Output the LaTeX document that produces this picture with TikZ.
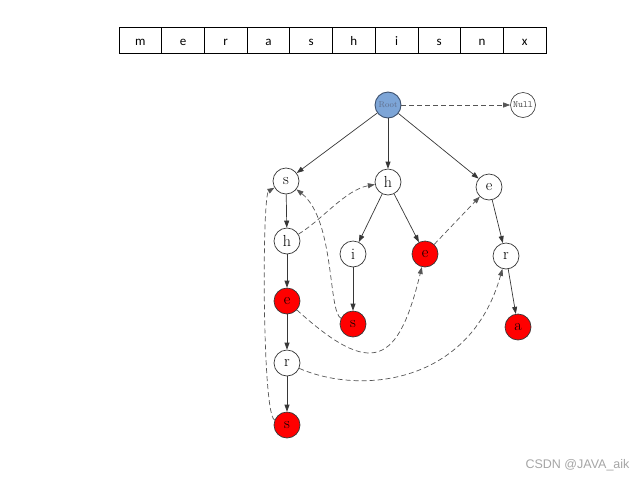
\documentclass[tikz,border=0pt]{standalone}
\usepackage{fontspec}
\newfontfamily\calib{Carlito}
\newfontfamily\wmfont{Liberation Sans}
\usetikzlibrary{arrows.meta}
\definecolor{rootblue}{RGB}{125,165,215}
\definecolor{rootedge}{RGB}{60,80,110}
\definecolor{roottext}{RGB}{95,110,140}
\definecolor{edgegray}{RGB}{55,55,55}
\definecolor{dashgray}{RGB}{85,85,85}
\definecolor{wmgray}{RGB}{165,165,165}
\tikzset{
  tnode/.style={circle,draw=edgegray,line width=0.7pt,minimum size=26pt,inner sep=0pt,fill=white,font=\fontsize{16}{16}\selectfont},
  rednode/.style={tnode,fill=red},
  rootnode/.style={circle,draw=rootedge,line width=0.9pt,minimum size=26pt,inner sep=0pt,fill=rootblue,text=roottext,font=\fontsize{8.5}{8.5}\selectfont},
  nullnode/.style={circle,draw=edgegray,line width=0.6pt,minimum size=25pt,inner sep=0pt,fill=white,text=black!70,font=\ttfamily\fontsize{9.5}{9.5}\selectfont},
  tedge/.style={draw=edgegray,line width=0.7pt,-{Triangle[length=7pt,width=5pt]}},
  fedge/.style={draw=dashgray,line width=0.7pt,dash pattern=on 5pt off 3pt,-{Triangle[length=7pt,width=5pt]}},
  cell/.style={draw=black,line width=0.7pt,minimum width=42.7pt,minimum height=26pt,inner sep=0pt,text height=9pt,text depth=0pt,font=\calib\fontsize{13}{13}\selectfont}
}
\begin{document}
\begin{tikzpicture}[x=1pt,y=-1pt]
\useasboundingbox (0,0) rectangle (640,480);
% array
\foreach \ch [count=\k from 0] in {m,e,r,a,s,h,i,s,n,x}{
  \node[cell] (c\k) at ({119+42.7*\k+21.35},40.5) {\ch};
}
% nodes
\node[rootnode] (root) at (388,105) {Root};
\node[nullnode] (null) at (523,105) {Null};
\node[tnode] (s1) at (286,181) {s};
\node[tnode] (h1) at (388,182) {h};
\node[tnode] (e1) at (489,187) {e};
\node[tnode] (h2) at (287,241) {h};
\node[tnode] (i) at (353,254) {i};
\node[rednode] (e2) at (425,254) {e};
\node[tnode] (r1) at (506,256) {r};
\node[rednode] (e3) at (287,301) {e};
\node[rednode] (s2) at (353,324) {s};
\node[rednode] (a) at (518,327) {a};
\node[tnode] (r2) at (287,363) {r};
\node[rednode] (s3) at (287,425) {s};
% tree edges
\draw[tedge] (root) -- (s1);
\draw[tedge] (root) -- (h1);
\draw[tedge] (root) -- (e1);
\draw[tedge] (s1) -- (h2);
\draw[tedge] (h2) -- (e3);
\draw[tedge] (e3) -- (r2);
\draw[tedge] (r2) -- (s3);
\draw[tedge] (h1) -- (i);
\draw[tedge] (h1) -- (e2);
\draw[tedge] (i) -- (s2);
\draw[tedge] (e1) -- (r1);
\draw[tedge] (r1) -- (a);
% fail links
\draw[fedge] (root) -- (null);
\draw[fedge] (h2) .. controls (322,220) and (345,190) .. (h1);
\draw[fedge] (e2) -- (e1);
\draw[fedge] (s2) .. controls (328,312) and (335,220) .. (s1);
\draw[fedge] (e3) .. controls (372,378) and (398,365) .. (e2);
\draw[fedge] (r2) .. controls (360,395) and (470,385) .. (r1);
\draw[fedge] (s3) .. controls (262,415) and (262,195) .. (s1);
% watermark
\node[text=wmgray,font=\wmfont\fontsize{12.5}{12.5}\selectfont,anchor=east] (wm) at (633,465) {CSDN @JAVA\_aik};
\end{tikzpicture}
\end{document}
